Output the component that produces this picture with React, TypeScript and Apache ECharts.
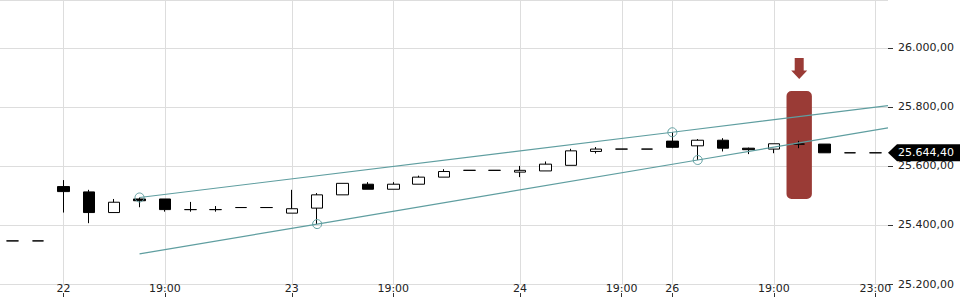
import React, { useEffect, useRef } from "react";
import * as echarts from "echarts";

// Hourly categories (day hh:mm)
const categories = [
  "21 22:00", "21 23:00",
  "22 15:00", "22 16:00", "22 17:00", "22 18:00", "22 19:00", "22 20:00", "22 21:00", "22 22:00", "22 23:00",
  "23 15:00", "23 16:00", "23 17:00", "23 18:00", "23 19:00", "23 20:00", "23 21:00", "23 22:00", "23 23:00",
  "24 15:00", "24 16:00", "24 17:00", "24 18:00", "24 19:00", "24 20:00",
  "26 15:00", "26 16:00", "26 17:00", "26 18:00", "26 19:00", "26 20:00", "26 21:00", "26 22:00", "26 23:00",
];
const tickLabels = [
  "", "",
  "22", "", "", "", "19:00", "", "", "", "",
  "23", "", "", "", "19:00", "", "", "", "",
  "24", "", "", "", "19:00", "",
  "26", "", "", "", "19:00", "", "", "", "23:00",
];
const opens = [
  25346, 25346,
  25530, 25512, 25442, 25488, 25488, 25452, 25452, 25459, 25459,
  25440, 25457, 25502, 25538, 25521, 25538, 25562, 25585, 25585,
  25579, 25583, 25602, 25649, 25657, 25657,
  25684, 25668, 25687, 25660, 25657, 25674, 25674, 25644.4, 25644.4,
];
const closes = [
  25346, 25346,
  25513, 25442, 25477, 25482, 25452, 25452, 25452, 25459, 25459,
  25455, 25502, 25541, 25521, 25538, 25562, 25581, 25585, 25585,
  25585, 25606, 25651, 25657, 25657, 25657,
  25663, 25687, 25660, 25655, 25675, 25674, 25644.4, 25644.4, 25644.4,
];
const lows = [
  25346, 25346,
  25442, 25406, 25442, 25460, 25445, 25445, 25445, 25459, 25459,
  25440, 25403, 25502, 25521, 25521, 25538, 25562, 25585, 25585,
  25562, 25583, 25602, 25642, 25657, 25657,
  25660, 25620, 25649, 25640, 25643, 25660, 25644.4, 25644.4, 25644.4,
];
const highs = [
  25346, 25346,
  25552, 25519, 25488, 25493, 25488, 25478, 25464, 25459, 25459,
  25519, 25508, 25541, 25545, 25545, 25567, 25589, 25585, 25585,
  25600, 25615, 25658, 25664, 25657, 25657,
  25714, 25691, 25694, 25662, 25675, 25685, 25674, 25644.4, 25644.4,
];
// Trend lines: [position, value, marked]
const upperLine: [number, number, boolean][] = [
  [5, 25493, true],
  [26, 25714, true],
  [34.5, 25804, false],
];
const lowerLine: [number, number, boolean][] = [
  [5, 25302, false],
  [12, 25403, true],
  [27, 25620, true],
  [34.5, 25729, false],
];
// Highlight marker: [position, low, high]
const highlight: [number, number, number][] = [[31, 25488, 25854]];
const lastPrice = 25644.4;
const yTicks = [25200, 25400, 25600, 25800, 26000];

const fmt = (v: number) => {
  const fixed = v.toFixed(2);
  const [i, d] = fixed.split(".");
  const withDots = i.replace(/\B(?=(\d{3})+(?!\d))/g, ".");
  return withDots + "," + d;
};

const FONT = "DejaVu Sans";
const TEAL = "#5f9ea0";
const RED = "#9a3b36";
const GRID = "#dddddd";

export default function App() {
  const ref = useRef<HTMLDivElement>(null);
  useEffect(() => {
    document.body.style.margin = "0";
    if (!ref.current) return;
    const chart = echarts.init(ref.current, undefined, { renderer: "svg" });
    const n = categories.length;
    const showIdx = (i: number) => tickLabels[i] !== "";
    const gridIdx = tickLabels.map((t, i) => (t !== "" ? [i] : null)).filter((v) => v !== null);
    const lineData = (pts: [number, number, boolean][]) =>
      pts.map(([x, y, m]) =>
        m
          ? {
              value: [x, y],
              symbol: "circle",
              symbolSize: 9,
              itemStyle: { color: "rgba(0,0,0,0)", borderColor: TEAL, borderWidth: 1 },
            }
          : { value: [x, y], symbol: "none" }
      );
    chart.setOption({
      animation: false,
      backgroundColor: "#fff",
      grid: { left: 0, right: 72, top: 0, bottom: 16 },
      xAxis: [
        {
          type: "category",
          data: categories,
          boundaryGap: true,
          axisLine: { show: false },
          axisTick: { show: false },
          axisLabel: {
            interval: (i: number) => showIdx(i),
            formatter: (_v: string, i: number) => tickLabels[i],
            margin: -1,
            fontFamily: FONT,
            fontSize: 11,
            color: "#222",
          },
          splitLine: { show: false },
        },
        {
          type: "category",
          data: categories,
          boundaryGap: true,
          position: "bottom",
          offset: 9,
          axisLine: { show: false },
          axisLabel: { show: false },
          axisTick: {
            show: true,
            alignWithLabel: true,
            interval: (i: number) => showIdx(i),
            length: 4,
            lineStyle: { color: "#333" },
          },
          splitLine: { show: false },
        },
        {
          type: "value",
          min: -0.5,
          max: n - 0.5,
          show: false,
        },
      ],
      yAxis: {
        type: "value",
        position: "right",
        min: 25200,
        max: 26162,
        interval: 200,
        axisLine: { show: false, onZero: false },
        axisTick: { show: true, length: 5, lineStyle: { color: "#333" } },
        axisLabel: {
          margin: 10,
          showMaxLabel: false,
          fontFamily: FONT,
          fontSize: 11,
          color: "#222",
          formatter: (v: number) => (yTicks.includes(Math.round(v)) ? fmt(v) : ""),
        },
        splitLine: { show: true, lineStyle: { color: GRID, width: 1 } },
      },
      series: [
        {
          type: "custom",
          xAxisIndex: 2,
          z: 0,
          silent: true,
          data: gridIdx,
          renderItem: (params: any, api: any) => {
            const p = api.coord([api.value(0), 25200]);
            const x = Math.round(p[0]) + 0.5;
            return {
              type: "line",
              shape: { x1: x, y1: params.coordSys.y, x2: x, y2: params.coordSys.y + params.coordSys.height },
              style: { stroke: GRID, lineWidth: 1 },
            };
          },
        },
        {
          type: "custom",
          xAxisIndex: 2,
          clip: false,
          z: 1,
          data: highlight,
          renderItem: (_params: any, api: any) => {
            const x = api.value(0);
            const top = api.coord([x, api.value(2)]);
            const bot = api.coord([x, api.value(1)]);
            const w = api.size([1, 0])[0];
            const cx = top[0];
            const tipY = top[1] - 12;
            return {
              type: "group",
              children: [
                {
                  type: "rect",
                  shape: { x: cx - w / 2, y: top[1], width: w, height: bot[1] - top[1], r: 5 },
                  style: { fill: RED },
                },
                {
                  type: "polygon",
                  shape: {
                    points: [
                      [cx - 4.5, tipY - 21],
                      [cx + 4.5, tipY - 21],
                      [cx + 4.5, tipY - 8.5],
                      [cx + 8, tipY - 8.5],
                      [cx, tipY],
                      [cx - 8, tipY - 8.5],
                      [cx - 4.5, tipY - 8.5],
                    ],
                  },
                  style: { fill: RED },
                },
              ],
            };
          },
        },
        {
          type: "candlestick",
          xAxisIndex: 0,
          data: categories.map((_, i) => [opens[i], closes[i], lows[i], highs[i]]),
          barWidth: 12,
          z: 3,
          itemStyle: {
            color: "#ffffff",
            color0: "#000000",
            borderColor: "#000000",
            borderColor0: "#000000",
            borderColorDoji: "#000000",
            borderWidth: 1,
          },
        },
        {
          type: "line",
          xAxisIndex: 2,
          data: lineData(upperLine),
          showSymbol: true,
          symbol: "none",
          lineStyle: { color: TEAL, width: 1.2 },
          itemStyle: { color: TEAL, borderColor: TEAL, borderWidth: 1 },
          z: 5,
        },
        {
          type: "line",
          xAxisIndex: 2,
          data: lineData(lowerLine),
          showSymbol: true,
          symbol: "none",
          lineStyle: { color: TEAL, width: 1.2 },
          itemStyle: { color: TEAL, borderColor: TEAL, borderWidth: 1 },
          z: 5,
        },
        {
          type: "custom",
          xAxisIndex: 2,
          clip: false,
          z: 20,
          data: [[n - 1, lastPrice]],
          renderItem: (params: any, api: any) => {
            const p = api.coord([api.value(0), api.value(1)]);
            const right = params.coordSys.x + params.coordSys.width;
            const y = p[1];
            const h = 8.5;
            return {
              type: "group",
              children: [
                {
                  type: "polygon",
                  shape: {
                    points: [
                      [right, y],
                      [right + 9, y - h],
                      [960, y - h],
                      [960, y + h],
                      [right + 9, y + h],
                    ],
                  },
                  style: { fill: "#000" },
                },
                {
                  type: "text",
                  style: {
                    x: right + 10,
                    y: y,
                    text: fmt(api.value(1)),
                    fill: "#fff",
                    font: `11px "${FONT}"`,
                    verticalAlign: "middle",
                    align: "left",
                  },
                },
              ],
            };
          },
        },
      ],
    });
    return () => chart.dispose();
  }, []);
  return <div ref={ref} style={{ width: 960, height: 300 }} />;
}
